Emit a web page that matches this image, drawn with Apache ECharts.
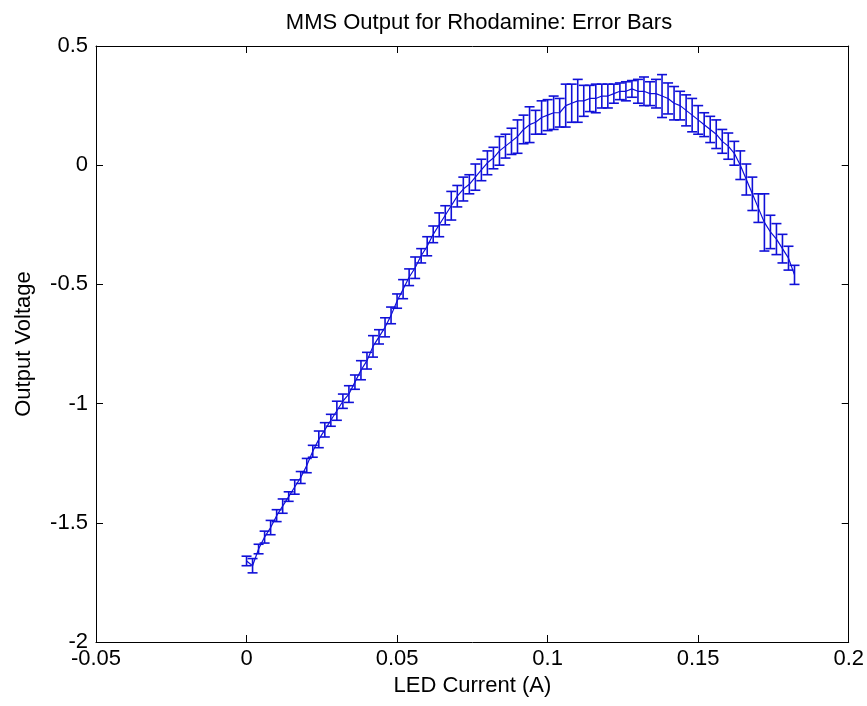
<!DOCTYPE html>
<html>
<head>
<meta charset="utf-8">
<script src="https://cdn.jsdelivr.net/npm/echarts@6/dist/echarts.min.js"></script>
<style>
  html, body { margin: 0; padding: 0; background: #ffffff; }
  #chart { width: 867px; height: 706px; }
</style>
</head>
<body>
<div id="chart"></div>
<script>
// LED drive current (A), one sample every 2 mA
const currents = [
  0.000, 0.002, 0.004, 0.006, 0.008, 0.010, 0.012, 0.014, 0.016, 0.018,
  0.020, 0.022, 0.024, 0.026, 0.028, 0.030, 0.032, 0.034, 0.036, 0.038,
  0.040, 0.042, 0.044, 0.046, 0.048, 0.050, 0.052, 0.054, 0.056, 0.058,
  0.060, 0.062, 0.064, 0.066, 0.068, 0.070, 0.072, 0.074, 0.076, 0.078,
  0.080, 0.082, 0.084, 0.086, 0.088, 0.090, 0.092, 0.094, 0.096, 0.098,
  0.100, 0.102, 0.104, 0.106, 0.108, 0.110, 0.112, 0.114, 0.116, 0.118,
  0.120, 0.122, 0.124, 0.126, 0.128, 0.130, 0.132, 0.134, 0.136, 0.138,
  0.140, 0.142, 0.144, 0.146, 0.148, 0.150, 0.152, 0.154, 0.156, 0.158,
  0.160, 0.162, 0.164, 0.166, 0.168, 0.170, 0.172, 0.174, 0.176, 0.178,
  0.180, 0.182
];

// Mean MMS output voltage (V) at each current
const meanVoltage = [
  -1.66, -1.68, -1.61, -1.56, -1.52, -1.47, -1.43, -1.39, -1.35, -1.31,
  -1.26, -1.20, -1.15, -1.11, -1.07, -1.03, -0.99, -0.96, -0.91, -0.86,
  -0.82, -0.76, -0.72, -0.68, -0.63, -0.57, -0.52, -0.47, -0.43, -0.38,
  -0.34, -0.29, -0.25, -0.21, -0.17, -0.13, -0.10, -0.08, -0.05, -0.02,
   0.01,  0.03,  0.06,  0.08,  0.10,  0.12,  0.15,  0.17,  0.18,  0.20,
   0.21,  0.22,  0.22,  0.25,  0.26,  0.27,  0.27,  0.28,  0.28,  0.29,
   0.29,  0.30,  0.31,  0.31,  0.32,  0.31,  0.31,  0.30,  0.30,  0.29,
   0.28,  0.26,  0.25,  0.23,  0.21,  0.19,  0.17,  0.15,  0.13,  0.10,
   0.08,  0.05,  0.00, -0.06, -0.12, -0.18, -0.24, -0.28, -0.31, -0.35,
  -0.39, -0.46
];

// Half-length of each error bar (V)
const voltageError = [
  0.020, 0.030, 0.020, 0.025, 0.030, 0.025, 0.030, 0.020, 0.030, 0.025,
  0.030, 0.025, 0.035, 0.030, 0.025, 0.040, 0.030, 0.035, 0.030, 0.040,
  0.035, 0.045, 0.030, 0.040, 0.035, 0.030, 0.040, 0.035, 0.045, 0.030,
  0.040, 0.035, 0.050, 0.040, 0.060, 0.045, 0.050, 0.040, 0.055, 0.045,
  0.050, 0.045, 0.060, 0.050, 0.055, 0.070, 0.060, 0.075, 0.050, 0.070,
  0.065, 0.070, 0.060, 0.090, 0.080, 0.090, 0.065, 0.055, 0.060, 0.050,
  0.050, 0.040, 0.035, 0.040, 0.035, 0.050, 0.060, 0.050, 0.060, 0.090,
  0.065, 0.070, 0.060, 0.065, 0.070, 0.060, 0.050, 0.055, 0.060, 0.050,
  0.055, 0.050, 0.060, 0.065, 0.070, 0.060, 0.120, 0.070, 0.065, 0.060,
  0.050, 0.040
];

// Axis ticks
const xTicks = [-0.05, 0, 0.05, 0.1, 0.15, 0.2];
const xTickLabels = ['-0.05', '0', '0.05', '0.1', '0.15', '0.2'];
const yTicks = [-2, -1.5, -1, -0.5, 0, 0.5];
const yTickLabels = ['-2', '-1.5', '-1', '-0.5', '0', '0.5'];

const BLUE = '#1010d8';
const FONT = "'Liberation Sans', Arial, sans-serif";
const FONT_SIZE = 22;

const lineData = currents.map((c, i) => [c, meanVoltage[i]]);
const barData = currents.map((c, i) => [c, meanVoltage[i] - voltageError[i], meanVoltage[i] + voltageError[i]]);

function tickLabel(ticks, labels) {
  return function (v) {
    for (let i = 0; i < ticks.length; i++) {
      if (Math.abs(ticks[i] - v) < 1e-9) return labels[i];
    }
    return '';
  };
}

// Vertical error bar with horizontal caps
function renderErrorBar(params, api) {
  const x = api.value(0);
  const lo = api.coord([x, api.value(1)]);
  const hi = api.coord([x, api.value(2)]);
  const half = 5;
  const style = { stroke: BLUE, lineWidth: 1.6, fill: null };
  return {
    type: 'group',
    children: [
      { type: 'line', shape: { x1: lo[0], y1: lo[1], x2: hi[0], y2: hi[1] }, style: style },
      { type: 'line', shape: { x1: hi[0] - half, y1: hi[1], x2: hi[0] + half, y2: hi[1] }, style: style },
      { type: 'line', shape: { x1: lo[0] - half, y1: lo[1], x2: lo[0] + half, y2: lo[1] }, style: style }
    ]
  };
}

const axisCommon = {
  axisLine: { show: true, onZero: false, lineStyle: { color: '#000', width: 1 } },
  axisTick: { show: true, inside: true, length: 7, lineStyle: { color: '#000', width: 1 } },
  splitLine: { show: false }
};

const textStyle = { fontFamily: FONT, fontSize: FONT_SIZE, color: '#000' };

const chart = echarts.init(document.getElementById('chart'), null, { renderer: 'canvas' });
chart.setOption({
  animation: false,
  backgroundColor: '#ffffff',
  title: {
    text: 'MMS Output for Rhodamine: Error Bars',
    left: 474,
    textAlign: 'center',
    top: 7,
    textStyle: Object.assign({ fontWeight: 'normal' }, textStyle)
  },
  grid: { left: 96, right: 15, top: 46, bottom: 64, containLabel: false },
  xAxis: [
    Object.assign({
      type: 'value', position: 'bottom', min: -0.05, max: 0.2, interval: 0.05,
      name: 'LED Current (A)', nameLocation: 'middle', nameGap: 33,
      nameTextStyle: textStyle,
      axisLabel: Object.assign({ show: true, margin: 6, formatter: tickLabel(xTicks, xTickLabels) }, textStyle)
    }, axisCommon),
    Object.assign({
      type: 'value', position: 'top', min: -0.05, max: 0.2, interval: 0.05,
      axisLabel: { show: false }
    }, axisCommon)
  ],
  yAxis: [
    Object.assign({
      type: 'value', position: 'left', min: -2, max: 0.5, interval: 0.5,
      name: 'Output Voltage', nameLocation: 'middle', nameGap: 61,
      nameTextStyle: textStyle,
      axisLabel: Object.assign({ show: true, margin: 8, formatter: tickLabel(yTicks, yTickLabels) }, textStyle)
    }, axisCommon),
    Object.assign({
      type: 'value', position: 'right', min: -2, max: 0.5, interval: 0.5,
      axisLabel: { show: false }
    }, axisCommon)
  ],
  series: [
    {
      type: 'line',
      xAxisIndex: 0, yAxisIndex: 0,
      data: lineData,
      showSymbol: false,
      lineStyle: { color: BLUE, width: 1.2 },
      z: 3
    },
    {
      type: 'custom',
      xAxisIndex: 0, yAxisIndex: 0,
      data: barData,
      renderItem: renderErrorBar,
      encode: { x: 0, y: [1, 2] },
      z: 4
    }
  ]
});
</script>
</body>
</html>
